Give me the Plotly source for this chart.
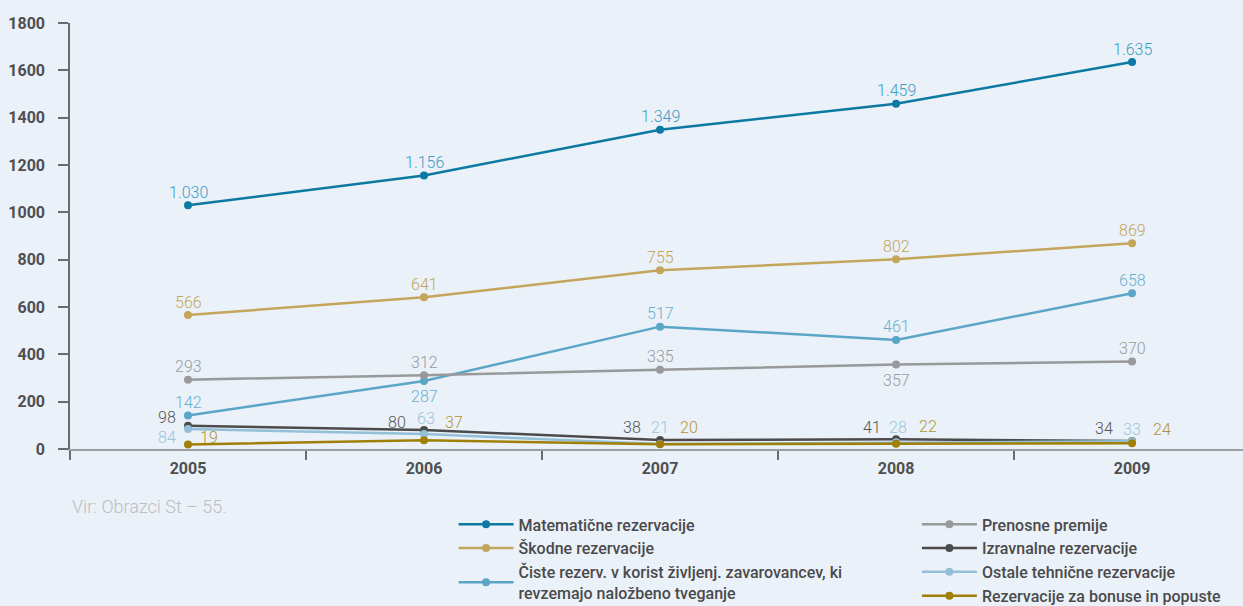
import plotly.graph_objects as go

years = ["2005", "2006", "2007", "2008", "2009"]

matematicne = [1030, 1156, 1349, 1459, 1635]
skodne = [566, 641, 755, 802, 869]
ciste = [142, 287, 517, 461, 658]
prenosne = [293, 312, 335, 357, 370]
izravnalne = [98, 80, 38, 41, 34]
ostale = [84, 63, 21, 28, 33]
bonusi = [19, 37, 20, 22, 24]

mat_labels = ["1.030", "1.156", "1.349", "1.459", "1.635"]

y_ticks = [0, 200, 400, 600, 800, 1000, 1200, 1400, 1600, 1800]

FONT = "Roboto"
BG = "#eaf1f8"

series = [
    # name, values, line color, label color, legend id, label placement (xanchor, xshift, yshift) per point
    ("Matematične rezervacije", matematicne, "#0b79a2", "#3b9cc4", "legend",
     [("center", 0, 13)] * 5, mat_labels),
    ("Škodne rezervacije", skodne, "#c4a55c", "#c4a55c", "legend",
     [("center", 0, 13)] * 5, None),
    ("Čiste rezerv. v korist življenj. zavarovancev, ki<br>revzemajo naložbeno tveganje", ciste,
     "#5ba6c7", "#6aafcf", "legend",
     [("center", 0, 13), ("center", 0, -15), ("center", 0, 13), ("center", 0, 13), ("center", 0, 13)], None),
    ("Prenosne premije", prenosne, "#98999b", "#9a9b9d", "legend2",
     [("center", 0, 13), ("center", 0, 13), ("center", 0, 13), ("center", 0, -16), ("center", 0, 13)], None),
    ("Izravnalne rezervacije", izravnalne, "#4b4b4d", "#555557", "legend2",
     [("right", -10, 8), ("right", -16, 8), ("right", -17, 13), ("right", -13, 12), ("right", -17, 12)], None),
    ("Ostale tehnične rezervacije", ostale, "#93bfd8", "#9cc5dd", "legend2",
     [("right", -10, -8), ("center", 2, 16), ("center", 0, 17), ("center", 2, 15), ("center", 0, 12)], None),
    ("Rezervacije za bonuse in popuste", bonusi, "#a07f06", "#b39433", "legend2",
     [("left", 10, 7), ("left", 19, 18), ("left", 18, 17), ("left", 21, 17), ("left", 19, 14)], None),
]

fig = go.Figure()
annotations = []
for name, vals, lc, tc, leg, pos, texts in series:
    fig.add_trace(go.Scatter(
        x=years, y=vals, name=name, mode="lines+markers",
        line=dict(color=lc, width=2.5),
        marker=dict(color=lc, size=8),
        legend=leg, hoverinfo="skip",
    ))
    for i, v in enumerate(vals):
        xa, xs, ys = pos[i]
        annotations.append(dict(
            x=i, y=v, xref="x", yref="y", showarrow=False,
            text=texts[i] if texts else str(v),
            xanchor=xa, yanchor="middle", xshift=xs, yshift=ys,
            font=dict(family=FONT, size=16, color=tc, weight=300),
        ))

annotations.append(dict(
    x=0, y=-0.136, xref="paper", yref="paper", showarrow=False,
    text="Vir: Obrazci St – 55.", xanchor="left", yanchor="middle",
    font=dict(family=FONT, size=18, color="#bcbec1", weight=300),
))

legend_common = dict(
    orientation="v", xanchor="left", yanchor="top",
    bgcolor="rgba(0,0,0,0)", itemwidth=55, tracegroupgap=0,
    font=dict(family=FONT, size=16, color="#4a4a4c", weight=500),
    itemclick=False, itemdoubleclick=False,
)

fig.update_layout(
    width=1243, height=606,
    margin=dict(l=70, r=0, t=23, b=157, autoexpand=False),
    paper_bgcolor=BG, plot_bgcolor=BG,
    showlegend=True,
    legend=dict(x=0.327, y=-0.137, **legend_common),
    legend2=dict(x=0.722, y=-0.137, **legend_common),
    annotations=annotations,
    xaxis=dict(
        type="category", range=[-0.5, 4.47],
        showgrid=False, zeroline=False,
        showline=True, linecolor="#9d9ea0", linewidth=2,
        ticks="outside", tickson="boundaries", ticklen=9, tickcolor="#6b6b6d", tickwidth=1.5,
        ticklabelstandoff=4,
        tickfont=dict(family=FONT, size=16, color="#4f4f51", weight="bold"),
    ),
    yaxis=dict(
        range=[0, 1800], tickvals=y_ticks,
        showgrid=False, zeroline=False,
        showline=True, linecolor="#6b6b6d", linewidth=1.5,
        ticks="outside", ticklen=10, tickcolor="#6b6b6d", tickwidth=1.5,
        ticklabelstandoff=10,
        tickfont=dict(family=FONT, size=16, color="#4f4f51", weight="bold"),
    ),
)

fig.write_html("out.html", config={"displayModeBar": False},
               post_script="document.body.style.margin='0';")
